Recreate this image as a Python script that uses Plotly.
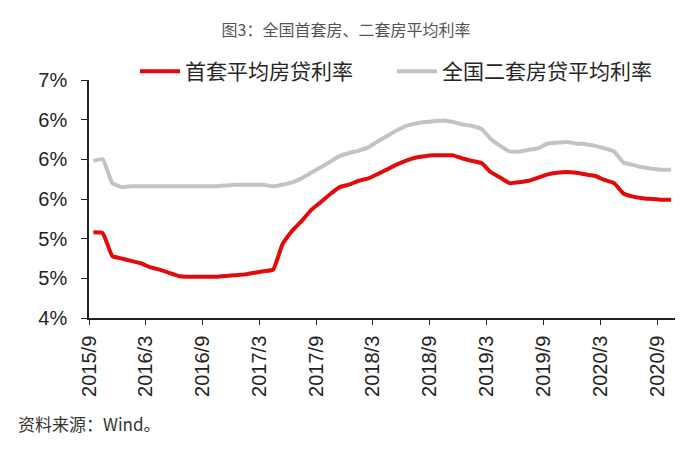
import pandas as pd
import plotly.graph_objects as go

# monthly observations, 2015/9 .. 2020/10 (plotted mid-month)
months = pd.date_range("2015-09-01", periods=62, freq="MS") + pd.Timedelta(days=14)

first_home = [5.08, 5.07, 4.78, 4.75, 4.72, 4.69, 4.64, 4.61, 4.57, 4.53,
              4.52, 4.52, 4.52, 4.52, 4.53, 4.54, 4.55, 4.57, 4.59, 4.61,
              4.93, 5.10, 5.22, 5.36, 5.46, 5.56, 5.65, 5.68, 5.73, 5.76,
              5.81, 5.87, 5.93, 5.98, 6.02, 6.04, 6.05, 6.05, 6.05, 6.01,
              5.98, 5.95, 5.84, 5.77, 5.70, 5.71, 5.73, 5.77, 5.81, 5.83,
              5.84, 5.83, 5.81, 5.79, 5.74, 5.70, 5.57, 5.53, 5.51, 5.50,
              5.49, 5.49]

second_home = [5.98, 6.00, 5.70, 5.65, 5.66, 5.66, 5.66, 5.66, 5.66, 5.66,
               5.66, 5.66, 5.66, 5.66, 5.67, 5.68, 5.68, 5.68, 5.68, 5.66,
               5.68, 5.71, 5.76, 5.83, 5.90, 5.97, 6.04, 6.08, 6.11, 6.15,
               6.22, 6.29, 6.36, 6.42, 6.45, 6.47, 6.48, 6.49, 6.47, 6.44,
               6.42, 6.38, 6.26, 6.17, 6.10, 6.10, 6.12, 6.14, 6.20, 6.21,
               6.22, 6.20, 6.19, 6.17, 6.14, 6.10, 5.96, 5.93, 5.90, 5.88,
               5.87, 5.87]

x_tick_vals = ["2015-09-01", "2016-03-01", "2016-09-01", "2017-03-01", "2017-09-01",
               "2018-03-01", "2018-09-01", "2019-03-01", "2019-09-01", "2020-03-01",
               "2020-09-01"]
x_tick_text = ["2015/9", "2016/3", "2016/9", "2017/3", "2017/9", "2018/3",
               "2018/9", "2019/3", "2019/9", "2020/3", "2020/9"]
y_tick_vals = [4.0, 4.5, 5.0, 5.5, 6.0, 6.5, 7.0]
y_tick_text = ["4%", "5%", "5%", "6%", "6%", "6%", "7%"]

fig = go.Figure()
fig.add_trace(go.Scatter(x=months, y=first_home, mode="lines",
                         name="首套平均房贷利率", legend="legend",
                         line=dict(color="#E30A0A", width=4, shape="spline", smoothing=0.4)))
fig.add_trace(go.Scatter(x=months, y=second_home, mode="lines",
                         name="全国二套房贷平均利率", legend="legend2",
                         line=dict(color="#C3C3C3", width=4, shape="spline", smoothing=0.4)))

legend_common = dict(orientation="h", xref="container", yref="container",
                     xanchor="left", yanchor="middle", y=1 - 71.5 / 450,
                     font=dict(family="Noto Sans CJK SC", size=21, color="#262626"),
                     bgcolor="rgba(0,0,0,0)", itemwidth=40)

fig.update_layout(
    width=692, height=450,
    margin=dict(l=89, r=17, t=80, b=132, autoexpand=False),
    paper_bgcolor="white", plot_bgcolor="white",
    title=dict(text="图3：全国首套房、二套房平均利率", x=0.5, xanchor="center",
               y=1 - 30 / 450, yanchor="middle", yref="container",
               font=dict(family="Noto Sans CJK SC", size=16, color="#555555")),
    showlegend=True,
    legend=dict(legend_common, x=135 / 692),
    legend2=dict(legend_common, x=392 / 692),
    xaxis=dict(type="date", range=["2015-09-01", "2020-10-28"], automargin=False,
               tickmode="array", tickvals=x_tick_vals, ticktext=x_tick_text,
               tickangle=-90, ticks="outside", ticklen=5, tickcolor="#222",
               showline=True, linecolor="#222", linewidth=1.5, showgrid=False,
               zeroline=False, ticklabelstandoff=3,
               tickfont=dict(family="Liberation Sans", size=20, color="#222")),
    yaxis=dict(range=[4, 7], tickmode="array", tickvals=y_tick_vals, ticktext=y_tick_text,
               automargin=False,
               ticks="outside", ticklen=6, tickcolor="#222",
               showline=True, linecolor="#222", linewidth=1.5, showgrid=False,
               zeroline=False, ticklabelstandoff=10,
               tickfont=dict(family="Liberation Sans", size=20, color="#222")),
    annotations=[dict(text="资料来源：Wind。", xref="paper", yref="paper",
                      x=(16 - 89) / 586, y=(318 - 423) / 238, xanchor="left", yanchor="middle",
                      showarrow=False,
                      font=dict(family="Noto Sans CJK SC", size=17, color="#333"))],
)

fig.write_html("out.html", config={"displayModeBar": False},
               post_script="document.body.style.margin='0';")
